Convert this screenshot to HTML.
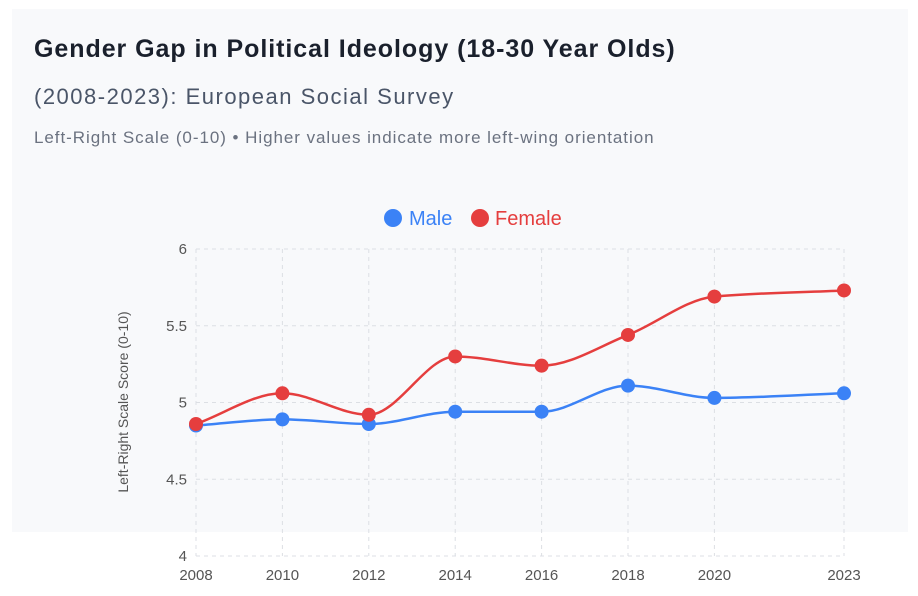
<!DOCTYPE html>
<html><head><meta charset="utf-8"><style>
html,body{margin:0;padding:0;background:#fff;width:918px;height:596px;overflow:hidden;font-family:"Liberation Sans",sans-serif}
#panel{position:absolute;left:12px;top:9px;width:896px;height:523px;background:#f8f9fb}
.t{position:absolute;white-space:nowrap}
</style></head><body>
<div id="panel"></div>
<div class="t" style="left:34px;top:35px;font-size:25px;letter-spacing:0.95px;font-weight:bold;color:#1a202c">Gender Gap in Political Ideology (18-30 Year Olds)</div>
<div class="t" style="left:34px;top:84px;font-size:22px;letter-spacing:1.5px;color:#4a5568">(2008-2023): European Social Survey</div>
<div class="t" style="left:34px;top:128px;font-size:17px;letter-spacing:0.95px;color:#6b7280">Left-Right Scale (0-10) • Higher values indicate more left-wing orientation</div>
<svg id="chart" width="918" height="596" style="position:absolute;left:0;top:0"></svg>
<script>
const years=[2008,2010,2012,2014,2016,2018,2020,2023];
const male=[4.85,4.89,4.86,4.94,4.94,5.11,5.03,5.06];
const female=[4.86,5.06,4.92,5.30,5.24,5.44,5.69,5.73];
const yTicks=[4,4.5,5,5.5,6];
const yTickLabels=["4","4.5","5","5.5","6"];
const seriesNames=["Male","Female"];
const svg=document.getElementById('chart');const NS='http://www.w3.org/2000/svg';
const X=v=>196+(v-2008)*(844-196)/15;
const Y=v=>556-(v-4)*(556-249)/2;
function el(t,a,p){const e=document.createElementNS(NS,t);for(const k in a)e.setAttribute(k,a[k]);(p||svg).appendChild(e);return e;}
yTicks.forEach((v,i)=>{
 const g=el('line',{x1:196,x2:844,y1:Y(v),y2:Y(v),stroke:'#dcdfe4','stroke-dasharray':'4 4'});
 
 const t=el('text',{x:187,y:Y(v)+5,'text-anchor':'end','font-size':15,fill:'#555'});t.textContent=yTickLabels[i];
 
});
years.forEach(v=>{
 const g=el('line',{x1:X(v),x2:X(v),y1:249,y2:556,stroke:'#dcdfe4','stroke-dasharray':'4 4'});
 
 const t=el('text',{x:X(v),y:580,'text-anchor':'middle','font-size':15,fill:'#555'});t.textContent=v;
 
});
const yt=el('text',{x:0,y:0,transform:'translate(128,402) rotate(-90)','text-anchor':'middle','font-size':14,fill:'#555'});yt.textContent='Left-Right Scale Score (0-10)';

function monotone(xs,ys){
 const n=xs.length,d=[],m=[];
 for(let i=0;i<n-1;i++)d.push((ys[i+1]-ys[i])/(xs[i+1]-xs[i]));
 m[0]=d[0];m[n-1]=d[n-2];
 for(let i=1;i<n-1;i++){if(d[i-1]*d[i]<=0)m[i]=0;else{const h0=xs[i]-xs[i-1],h1=xs[i+1]-xs[i];m[i]=3*(h0+h1)/((2*h1+h0)/d[i-1]+(h1+2*h0)/d[i]);}}
 let p='M'+xs[0]+','+ys[0];
 for(let i=0;i<n-1;i++){const h=(xs[i+1]-xs[i])/3;p+=` C${xs[i]+h},${ys[i]+m[i]*h} ${xs[i+1]-h},${ys[i+1]-m[i+1]*h} ${xs[i+1]},${ys[i+1]}`;}
 return p;}
[[male,'#3b82f6','male'],[female,'#e53e3e','female']].forEach(([vals,c,n])=>{
 const xs=years.map(X),ys=vals.map(Y);
 const p=el('path',{d:monotone(xs,ys),fill:'none',stroke:c,'stroke-width':2.5});
 
 xs.forEach((x,i)=>{const ci=el('circle',{cx:x,cy:ys[i],r:7,fill:c});
  });
});
[[393,'#3b82f6',409,seriesNames[0]],[480,'#e53e3e',495,seriesNames[1]]].forEach(([cx,c,tx,lab])=>{
 const g=el('g',{});
 el('circle',{cx:cx,cy:218,r:9,fill:c},g);
 const t=el('text',{x:tx,y:225,'font-size':20,fill:c},g);t.textContent=lab;
});
</script>
</body></html>
